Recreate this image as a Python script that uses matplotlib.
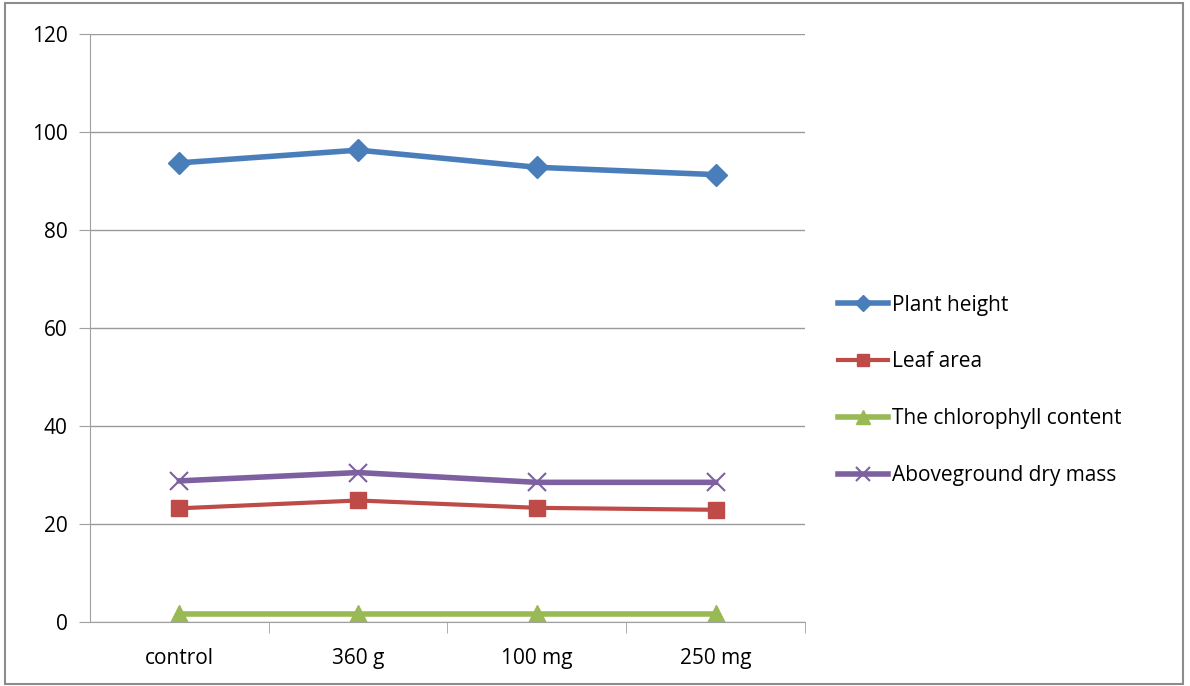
import matplotlib.pyplot as plt
from matplotlib.patches import Rectangle

plt.rcParams['font.family'] = ['Open Sans', 'DejaVu Sans']

categories = ['control', '360 g', '100 mg', '250 mg']
plant_height = [93.7, 96.3, 92.8, 91.3]
leaf_area = [23.2, 24.8, 23.3, 22.9]
chlorophyll = [1.6, 1.6, 1.6, 1.6]
dry_mass = [28.8, 30.5, 28.5, 28.5]

fig = plt.figure(figsize=(11.9, 6.86), dpi=100, facecolor='white')
ax = fig.add_axes([90/1190, 1-622/686, 715/1190, 588/686])

x = range(len(categories))
ax.plot(x, plant_height, color='#4a7ebb', lw=4, marker='D', ms=11, label='Plant height')
ax.plot(x, leaf_area, color='#be4b48', lw=3, marker='s', ms=12, label='Leaf area')
ax.plot(x, chlorophyll, color='#98b954', lw=4, marker='^', ms=13, label='The chlorophyll content')
ax.plot(x, dry_mass, color='#7d60a0', lw=4, marker='x', ms=13, mew=1.5, label='Aboveground dry mass')

ax.set_xlim(-0.5, 3.5)
ax.set_ylim(0, 120)
ax.set_yticks(range(0, 121, 20))
ax.set_xticks(list(x))
ax.set_xticklabels(categories)
ax.set_xticks([0.5, 1.5, 2.5, 3.5], minor=True)
ax.tick_params(axis='x', which='major', length=0, pad=19, labelsize=15)
ax.tick_params(axis='x', which='minor', length=8, color='#a0a0a0')
ax.tick_params(axis='y', length=8, color='#a0a0a0', labelsize=15, pad=8)
ax.grid(axis='y', color='#9a9a9a', lw=1)
ax.set_axisbelow(True)
for s in ['top', 'right']:
    ax.spines[s].set_visible(False)
for s in ['left', 'bottom']:
    ax.spines[s].set_color('#a0a0a0')

ax.legend(loc='center left', bbox_to_anchor=(1.02, 0.394), frameon=False,
          fontsize=15, handlelength=2.4, handletextpad=0.2, labelspacing=1.72,
          markerscale=0.75, bbox_transform=ax.transAxes)

fig.patches.append(Rectangle((5/1190, 2/686), 1178/1190, 681/686, transform=fig.transFigure,
                             fill=False, edgecolor='#8c8c8c', lw=1.5))

fig.savefig('out.png', dpi=100, facecolor='white')
